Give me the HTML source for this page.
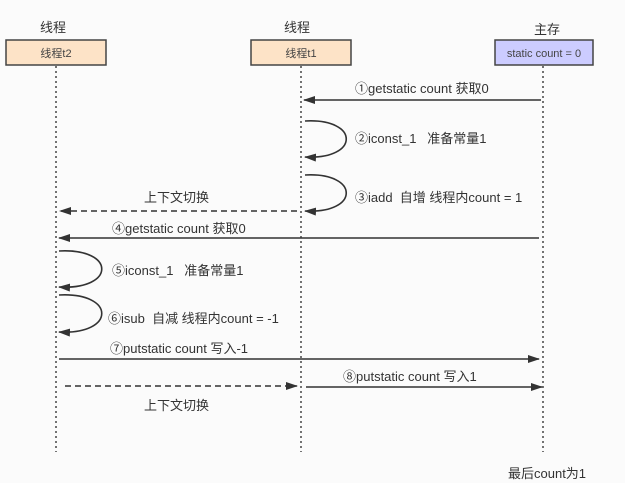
<!DOCTYPE html>
<html><head><meta charset="utf-8"><style>
html,body{margin:0;padding:0;background:#fbfbfb;}
svg{display:block;font-family:"Liberation Sans","Noto Sans CJK SC",sans-serif;}
</style></head><body>
<svg width="625" height="483" viewBox="0 0 625 483" xmlns="http://www.w3.org/2000/svg">
<defs>
<marker id="a" markerWidth="12" markerHeight="8" refX="11" refY="4" orient="auto" markerUnits="userSpaceOnUse"><path d="M0,0 L12,4 L0,8 Z" fill="#333"/></marker>
</defs>
<rect width="625" height="483" fill="#fbfbfb"/>
<g font-size="13" fill="#333" text-anchor="middle">
<text x="53" y="32">线程</text>
<text x="297" y="32">线程</text>
<text x="547" y="34">主存</text>
</g>
<rect x="6" y="40" width="100" height="25" fill="#fde3c7" stroke="#444" stroke-width="1.5"/>
<rect x="251" y="40" width="100" height="25" fill="#fde3c7" stroke="#444" stroke-width="1.5"/>
<rect x="495" y="40" width="98" height="25" fill="#ccccff" stroke="#444" stroke-width="1.5"/>
<g font-size="11" fill="#444" text-anchor="middle">
<text x="56" y="57">线程t2</text>
<text x="301" y="57">线程t1</text>
<text x="544" y="57">static count = 0</text>
</g>
<g stroke="#444" stroke-width="1.5" stroke-dasharray="2,3">
<line x1="56" y1="66" x2="56" y2="452"/>
<line x1="301" y1="66" x2="301" y2="452"/>
<line x1="543" y1="66" x2="543" y2="452"/>
</g>
<g stroke="#333" stroke-width="1.6" fill="none" marker-end="url(#a)">
<line x1="541" y1="100" x2="304" y2="100"/>
<path d="M305,121 C360,118 360,160 305,157"/>
<path d="M305,175 C360,172 360,214 305,211"/>
<line x1="297" y1="211" x2="60" y2="211" stroke-dasharray="6,4"/>
<line x1="539" y1="238" x2="59" y2="238"/>
<path d="M59,251 C116,248 116,290 59,287"/>
<path d="M59,295 C116,292 116,335 59,332"/>
<line x1="59" y1="359" x2="539" y2="359"/>
<line x1="65" y1="386" x2="297" y2="386" stroke-dasharray="6,4"/>
<line x1="306" y1="387" x2="542" y2="387"/>
</g>
<g font-size="13" fill="#333">
<text x="355" y="93">①getstatic count 获取0</text>
<text x="355" y="143">②iconst_1 &#160; 准备常量1</text>
<text x="355" y="202">③iadd &#160;自增 线程内count = 1</text>
<text x="144" y="202">上下文切换</text>
<text x="112" y="233">④getstatic count 获取0</text>
<text x="112" y="275">⑤iconst_1 &#160; 准备常量1</text>
<text x="108" y="323">⑥isub &#160;自减 线程内count = -1</text>
<text x="110" y="353">⑦putstatic count 写入-1</text>
<text x="343" y="381">⑧putstatic count 写入1</text>
<text x="144" y="410">上下文切换</text>
<text x="508" y="478">最后count为1</text>
</g>
</svg>
</body></html>
